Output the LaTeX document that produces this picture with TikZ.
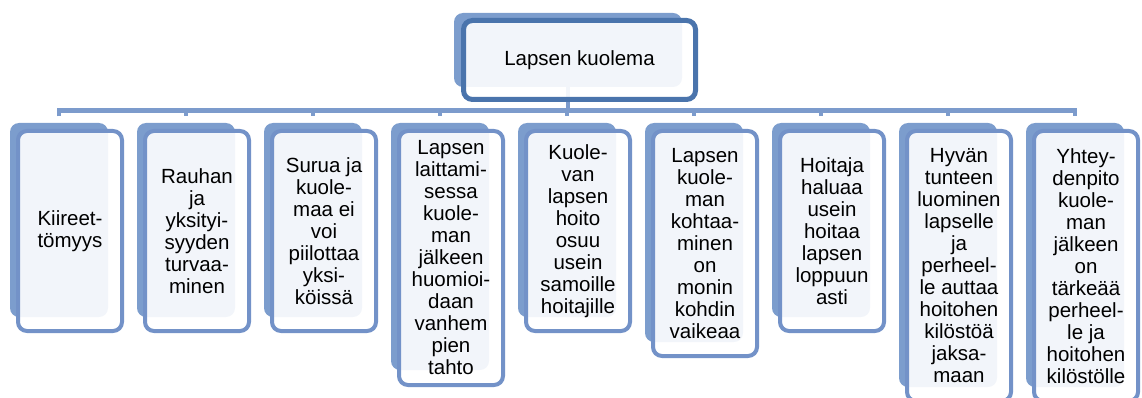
\documentclass[tikz,border=0pt]{standalone}
\usepackage{fontspec}
\setmainfont{Liberation Sans}
\usepackage{tikz}

\definecolor{backblue}{RGB}{124,157,205}
\definecolor{lineblue}{RGB}{115,146,200}
\definecolor{rootblue}{RGB}{74,116,172}
\definecolor{connblue}{RGB}{124,155,204}

\tikzset{
  backbox/.style={fill=backblue,rounded corners=9pt,inner sep=0pt},
  frontbox/.style={draw=lineblue,line width=4pt,fill=white,fill opacity=0.9,text opacity=1,
    rounded corners=9pt,inner sep=0pt,align=center,font=\fontsize{20.5}{22}\selectfont},
  conn/.style={draw=connblue,line width=4.5pt}
}

\begin{document}
\begin{tikzpicture}[x=1pt,y=-1pt]
\useasboundingbox (0,0) rectangle (1142,398);

% root
\path (568,50) node[backbox,minimum width=228pt,minimum height=74pt] (rb) {};
\coordinate (bar) at (568,110.5);
\draw[conn] (rb.south) -- (rb.south |- bar);

% back boxes
\path (59,220) node[backbox,minimum width=98pt,minimum height=194pt] (b1) {};
\path (186,220) node[backbox,minimum width=98pt,minimum height=194pt] (b2) {};
\path (313,220) node[backbox,minimum width=98pt,minimum height=194pt] (b3) {};
\path (440,246.5) node[backbox,minimum width=98pt,minimum height=247pt] (b4) {};
\path (567,220) node[backbox,minimum width=98pt,minimum height=194pt] (b5) {};
\path (694,232.5) node[backbox,minimum width=98pt,minimum height=219pt] (b6) {};
\path (821,220) node[backbox,minimum width=98pt,minimum height=194pt] (b7) {};
\path (948,255) node[backbox,minimum width=98pt,minimum height=264pt] (b8) {};
\path (1075,255) node[backbox,minimum width=98pt,minimum height=264pt] (b9) {};

% connectors
\draw[conn] (b1.north |- bar) ++(0,6) -- (b1.north |- bar) -- (b9.north |- bar) -- ++(0,6);
\draw[conn] (b2.north |- bar) -- ++(0,6);
\draw[conn] (b3.north |- bar) -- ++(0,6);
\draw[conn] (b4.north |- bar) -- ++(0,6);
\draw[conn] (b5.north |- bar) -- ++(0,6);
\draw[conn] (b6.north |- bar) -- ++(0,6);
\draw[conn] (b7.north |- bar) -- ++(0,6);
\draw[conn] (b8.north |- bar) -- ++(0,6);

\path (579.5,60) node[frontbox,draw=rootblue,line width=5pt,minimum width=232pt,minimum height=79pt] (root) {Lapsen kuolema};

% front boxes
\path (70,231) node[frontbox,minimum width=104pt,minimum height=200pt] (c1) {Kiireet-\\tömyys};
\path (197,231) node[frontbox,minimum width=104pt,minimum height=200pt] (c2) {Rauhan\\ja\\yksityi-\\syyden\\turvaa-\\minen};
\path (324,231) node[frontbox,minimum width=104pt,minimum height=200pt] (c3) {Surua ja\\kuole-\\maa ei\\voi\\piilottaa\\yksi-\\köissä};
\path (451,258) node[frontbox,minimum width=104pt,minimum height=254pt] (c4) {Lapsen\\laittami-\\sessa\\kuole-\\man\\jälkeen\\huomioi-\\daan\\vanhem\\pien\\tahto};
\path (578,231) node[frontbox,minimum width=104pt,minimum height=200pt] (c5) {Kuole-\\van\\lapsen\\hoito\\osuu\\usein\\samoille\\hoitajille};
\path (705,243.5) node[frontbox,minimum width=104pt,minimum height=225pt] (c6) {Lapsen\\kuole-\\man\\kohtaa-\\minen\\on\\monin\\kohdin\\vaikeaa};
\path (832,231) node[frontbox,minimum width=104pt,minimum height=200pt] (c7) {Hoitaja\\haluaa\\usein\\hoitaa\\lapsen\\loppuun\\asti};
\path (959,266) node[frontbox,minimum width=104pt,minimum height=270pt] (c8) {Hyvän\\tunteen\\luominen\\lapselle\\ja\\perheel-\\le auttaa\\hoitohen\\kilöstöä\\jaksa-\\maan};
\path (1086,266) node[frontbox,minimum width=104pt,minimum height=270pt] (c9) {Yhtey-\\denpito\\kuole-\\man\\jälkeen\\on\\tärkeää\\perheel-\\le ja\\hoitohen\\kilöstölle};
\end{tikzpicture}
\end{document}
